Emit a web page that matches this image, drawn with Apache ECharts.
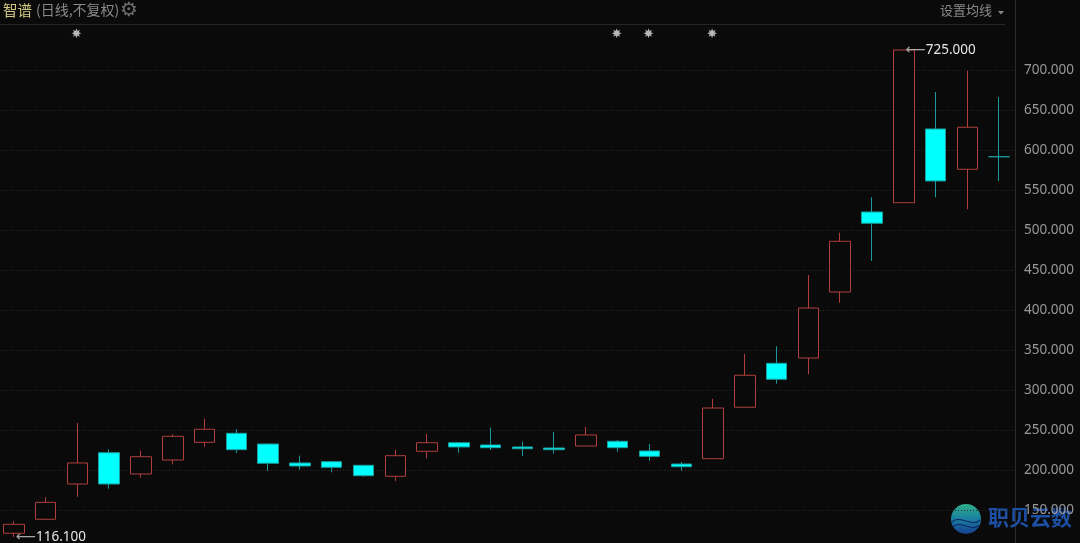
<!DOCTYPE html>
<html>
<head>
<meta charset="utf-8">
<script src="https://cdn.jsdelivr.net/npm/echarts@6/dist/echarts.min.js"></script>
<style>
html,body{margin:0;padding:0;background:#0a0a0a;}
#c{width:1080px;height:543px;}
</style>
</head>
<body>
<div id="c"></div>
<script>
// ---- data ----
const categories = Array.from({length: 32}, (_, i) => 'D' + (i + 1));
const opens  = [120.9,138.4,182.5,221.6,195.0,212.5,234.6,245.9,232.5,208.8,210.4,205.9,192.1,223.4,234.1,231.3,228.8,227.5,230.0,235.9,223.8,207.5,214.1,278.4,333.4,340.0,422.5,522.5,534.1,626.3,575.9,591.6];
const closes = [132.1,159.6,208.8,182.5,216.6,242.1,250.9,225.4,208.4,205.0,203.4,192.9,217.9,234.1,228.8,227.9,226.6,225.4,243.8,227.9,217.1,204.1,277.5,318.4,313.4,402.5,485.9,508.4,725.0,561.3,628.4,591.6];
const lows   = [116.1,137.8,166.6,176.6,190.4,207.1,228.8,221.3,198.8,200.4,197.1,191.5,186.3,214.6,221.6,225.0,217.5,220.4,230.0,222.9,211.6,199.1,214.1,278.4,307.9,319.6,409.1,461.3,534.1,540.9,525.9,561.3];
const highs  = [135.9,165.9,258.8,225.9,223.8,244.6,263.8,250.9,232.5,217.9,210.4,205.9,225.0,245.0,234.1,252.9,235.4,247.5,253.8,237.5,232.5,210.0,288.8,345.0,354.6,443.8,496.6,540.9,725.0,672.5,698.8,666.3];
const markerIdx = [2, 19, 20, 22];
const markerLevel = 746;
const yTicks = [150,200,250,300,350,400,450,500,550,600,650,700];

// ---- build ----
const kData = opens.map((o, i) => [o, closes[i], lows[i], highs[i]]);

function starPath(n, ro, ri) {
  let d = '';
  for (let k = 0; k < n * 2; k++) {
    const r = k % 2 === 0 ? ro : ri;
    const a = Math.PI * k / n - Math.PI / 2;
    d += (k === 0 ? 'M' : 'L') + (r * Math.cos(a)).toFixed(3) + ',' + (r * Math.sin(a)).toFixed(3);
  }
  return 'path://' + d + 'Z';
}

const chart = echarts.init(document.getElementById('c'), null, {renderer: 'canvas'});
const labelFont = '"Noto Sans", "DejaVu Sans", sans-serif';

chart.setOption({
  backgroundColor: '#0a0a0a',
  animation: false,
  grid: {left: -2, top: 30, width: 1017, height: 520, outerBoundsMode: 'none', containLabel: false},
  xAxis: {
    type: 'category',
    data: categories,
    boundaryGap: true,
    show: false
  },
  yAxis: {
    type: 'value',
    position: 'right',
    min: 100,
    max: 750,
    interval: 50,
    axisLine: {show: false},
    axisTick: {show: false},
    axisLabel: {
      color: '#9a9a9a',
      fontSize: 13.5,
      fontFamily: labelFont,
      margin: 9,
      align: 'left',
      padding: [4, 0, 0, 0],
      showMaxLabel: false,
      showMinLabel: false,
      formatter: v => yTicks.includes(v) ? v.toFixed(3) : ''
    },
    splitLine: {
      show: true,
      showMaxLine: false,
      showMinLine: false,
      lineStyle: {color: '#2a2a2a', type: [1, 2], width: 1}
    }
  },
  series: [
    {
      type: 'candlestick',
      data: kData,
      barWidth: '66%',
      itemStyle: {
        color: '#0a0a0a',
        color0: '#00ffff',
        borderColor: '#b03e3e',
        borderColor0: '#1a9c9c',
        borderWidth: 1
      },
      markPoint: {
        symbol: 'circle',
        symbolSize: 0,
        data: [
          {type: 'max', valueDim: 'highest'},
          {type: 'min', valueDim: 'lowest'}
        ],
        label: {
          show: true,
          position: 'right',
          distance: 2,
          formatter: p => '{a|⟵}{b|' + Number(p.value).toFixed(3) + '}',
          rich: {
            a: {color: '#a8a8a8', fontSize: 14, fontFamily: '"DejaVu Sans", sans-serif', padding: [0, 0, 0, 0]},
            b: {color: '#e6e6e6', fontSize: 13.5, fontFamily: labelFont}
          }
        }
      }
    },
    {
      type: 'scatter',
      clip: false,
      data: markerIdx.map(i => [i, markerLevel]),
      symbol: starPath(8, 5.2, 2.6),
      symbolSize: 10,
      symbolOffset: [-1, 0],
      itemStyle: {color: '#e2e2e2'},
      silent: true
    }
  ],
  graphic: [
    {type: 'line', shape: {x1: 0, y1: 24.5, x2: 1005, y2: 24.5}, style: {stroke: '#262626', lineWidth: 1}},
    {type: 'line', shape: {x1: 1015.5, y1: 0, x2: 1015.5, y2: 543}, style: {stroke: '#2c2c2c', lineWidth: 1}},
    {type: 'text', left: 3, top: 3, style: {text: '智谱', fill: '#d2c883', font: '14.5px "Noto Sans CJK SC"'}},
    {type: 'text', left: 36, top: 3, style: {text: '(日线,不复权)', fill: '#8a8a8a', font: '14px "Noto Sans CJK SC"'}},
    {type: 'text', left: 120, top: 1, style: {text: '⚙', fill: '#6e6e6e', font: '20px "DejaVu Sans"'}},
    {type: 'text', left: 940, top: 4, style: {text: '设置均线', fill: '#8a8a8a', font: '13px "Noto Sans CJK SC"'}},
    {type: 'polygon', shape: {points: [[998, 11], [1004, 11], [1001, 14.5]]}, style: {fill: '#8a8a8a'}},
    // watermark
    {type: 'circle', shape: {cx: 966, cy: 519, r: 15},
      style: {fill: new echarts.graphic.LinearGradient(0, 0, 0, 1, [
        {offset: 0, color: '#2fb088'}, {offset: 0.5, color: '#1a7fa0'}, {offset: 1, color: '#153f8f'}])}},
    {type: 'bezierCurve', shape: {x1: 952, y1: 522, x2: 980, y2: 520, cpx1: 960, cpy1: 514, cpx2: 972, cpy2: 528}, style: {stroke: '#0e2f6e', lineWidth: 1.2, fill: null}},
    {type: 'bezierCurve', shape: {x1: 953, y1: 527, x2: 979, y2: 525, cpx1: 961, cpy1: 519, cpx2: 971, cpy2: 533}, style: {stroke: '#0e2f6e', lineWidth: 1.2, fill: null}},
    {type: 'text', left: 988, top: 507, style: {text: '职贝云数', fill: '#1d4fa3', font: 'bold 21px "Noto Sans CJK SC"'}}
  ]
});
</script>
</body>
</html>
